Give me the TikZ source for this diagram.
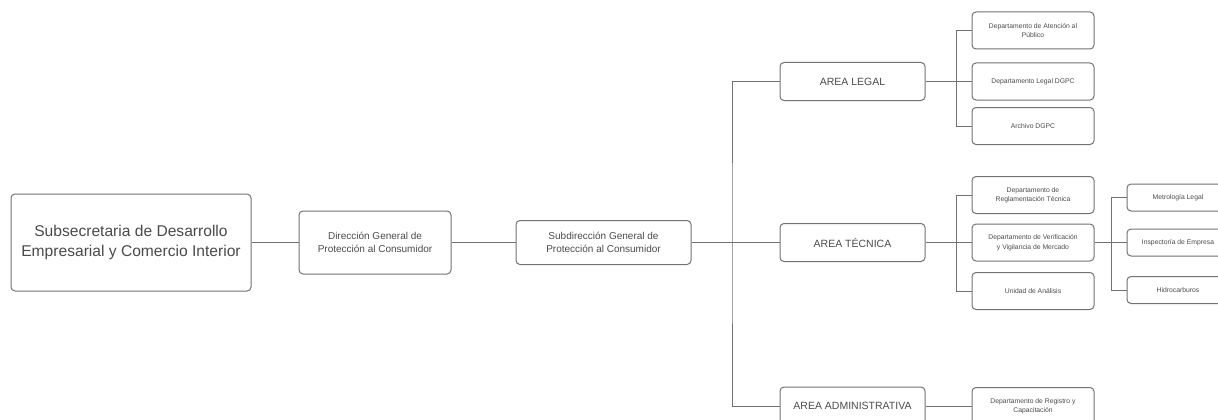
\documentclass[tikz,border=0pt]{standalone}
\usepackage{fontspec}
\setmainfont{Liberation Sans}
\usetikzlibrary{calc}
\definecolor{boxgray}{HTML}{727272}
\definecolor{txtgray}{HTML}{4A4A4A}

\begin{document}
\begin{tikzpicture}[x=1pt,y=-1pt,
  unit/.style={draw=boxgray,rounded corners=4pt,line width=1pt,text=txtgray,align=center,inner sep=0pt},
  top/.style={unit,minimum width=240pt,minimum height=97pt,font=\fontsize{15.6}{20}\selectfont},
  mid/.style={unit,minimum width=152pt,minimum height=63pt,font=\fontsize{10}{13.5}\selectfont},
  subd/.style={unit,minimum width=175pt,minimum height=44pt,font=\fontsize{10}{13.5}\selectfont},
  area/.style={unit,minimum width=145pt,minimum height=38pt,font=\fontsize{10.5}{13}\selectfont},
  dept/.style={unit,minimum width=122pt,minimum height=37pt,font=\fontsize{6.8}{9.5}\selectfont},
  sect/.style={unit,minimum width=102pt,minimum height=27pt,font=\fontsize{6.8}{9.5}\selectfont},
  link/.style={draw=boxgray,line width=1pt}]
\useasboundingbox (0,0) rectangle (1218,420);
  \node (sub) at (131,242.5) [top] {Subsecretaria de Desarrollo\\Empresarial y Comercio Interior};
  \node (dir) at (375,242.5) [mid] {Dirección General de\\Protección al Consumidor};
  \node (subd) at (603.5,242.5) [subd] {Subdirección General de\\Protección al Consumidor};
  \node (legal) at (852.5,81.5) [area] {AREA LEGAL};
  \node (tec) at (852.5,242.5) [area] {AREA TÉCNICA};
  \node (adm) at (852.5,406) [area] {AREA ADMINISTRATIVA};
  \node (d11) at (1033,30.5) [dept] {Departamento de Atención al\\Público};
  \node (d12) at (1033,81.5) [dept] {Departamento Legal DGPC};
  \node (d13) at (1033,126) [dept] {Archivo DGPC};
  \node (d21) at (1033,195) [dept] {Departamento de\\Reglamentación Técnica};
  \node (d22) at (1033,242.5) [dept] {Departamento de Verificación\\y Vigilancia de Mercado};
  \node (d23) at (1033,291) [dept] {Unidad de Análisis};
  \node (d31) at (1033,406) [dept] {Departamento de Registro y\\Capacitación};
  \node (s1) at (1178,197.5) [sect] {Metrología Legal};
  \node (s2) at (1178,242.5) [sect] {Inspectoría de Empresa};
  \node (s3) at (1178,290) [sect] {Hidrocarburos};
  % elbows
  \coordinate (trunk) at (732,242.5);
  \coordinate (lb) at (956,81.5);
  \coordinate (tb) at (956,242.5);
  \coordinate (sb) at (1111,242.5);
  \draw [link] (sub) -- (dir) -- (subd) -- (tec);
  \draw [link] (legal) -| (trunk) |- (adm);
  \draw [link] (legal) -- (d12);
  \draw [link] (d11) -| (lb) |- (d13);
  \draw [link] (tec) -- (d22) -- (s2);
  \draw [link] (d21) -| (tb) |- (d23);
  \draw [link] (adm) -- (d31);
  \draw [link] (s1) -| (sb) |- (s3);
\end{tikzpicture}
\end{document}
